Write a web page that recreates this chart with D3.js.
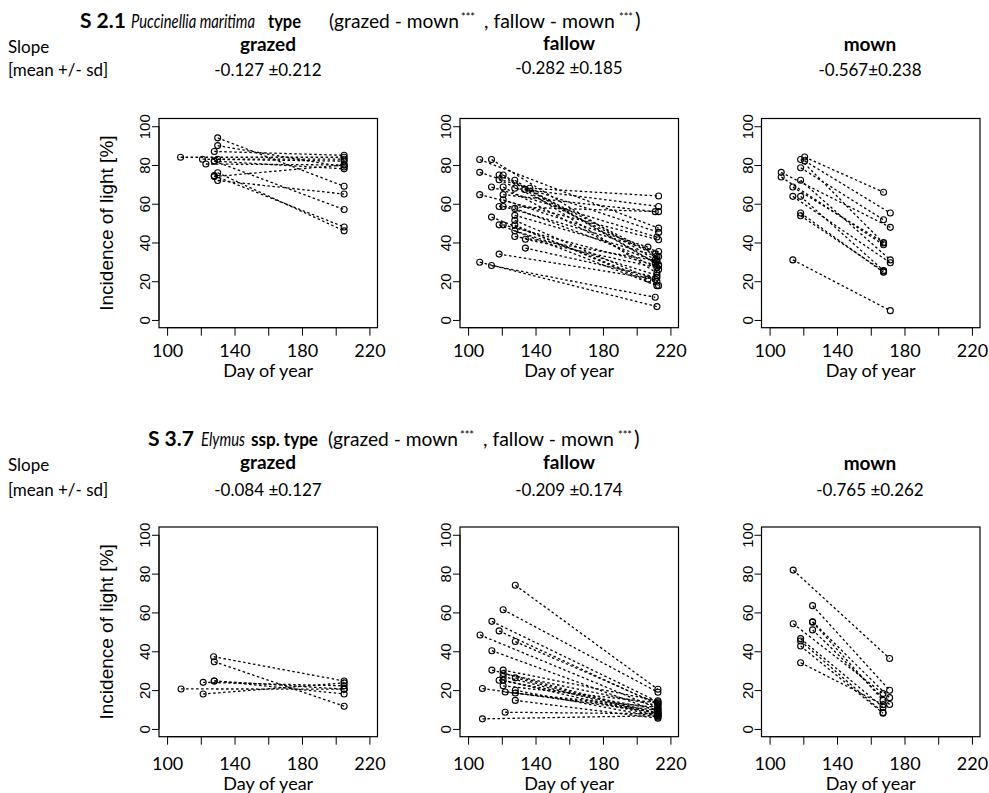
<!DOCTYPE html>
<html>
<head>
<meta charset="utf-8">
<script src="https://cdn.jsdelivr.net/npm/d3@7"></script>
<style>
  html, body { margin: 0; padding: 0; background: #fff; }
  svg { display: block; }
  .hum { font-family: Lato, "Open Sans", sans-serif; }
  .hel { font-family: "Liberation Sans", Arial, sans-serif; }
</style>
</head>
<body>
<svg id="chart" width="989" height="793"></svg>
<script>
// ---------------- DATA ----------------
const treatments = ["grazed", "fallow", "mown"];
const xTicks = [100, 120, 140, 160, 180, 200, 220];
const xTickLabels = ["100", "", "140", "", "180", "", "220"];
const yTicks = [0, 20, 40, 60, 80, 100];

// Segments: [start day, start value, end day, end value]
// S 2.1 Puccinellia maritima type
const puccGrazed = [
  [108, 84, 205, 84], [121, 83, 205, 82], [123, 80.5, 205, 80], [128, 87, 205, 85],
  [128, 82, 205, 78], [130, 94, 205, 69], [130, 90, 205, 79], [130, 83, 205, 83],
  [128, 74.5, 205, 48], [128, 74, 205, 80], [130, 72, 205, 65], [130, 76, 205, 46],
  [128, 82, 205, 57]
];
const puccFallow = [
  [136.6, 68, 213, 64], [127.7, 68, 213, 58.6], [120.8, 64.7, 211, 55.9], [118.4, 58.6, 213, 55.9],
  [106.9, 82.8, 213, 47.4], [113.9, 82.8, 211, 31], [106.9, 76.2, 213, 45.2], [118.4, 74.8, 211, 34.1],
  [120.8, 74.8, 211, 29.3], [118.4, 72.4, 213, 32.7], [127.7, 72.1, 213, 28.5], [113.9, 68.6, 212, 42.8],
  [120.8, 68.6, 213, 26], [133.6, 67.4, 212, 24.2], [106.9, 64.7, 213, 41.4], [120.8, 62, 206.7, 37.6],
  [120.8, 58.6, 213, 35.3], [127.7, 57.6, 212, 30], [127.7, 54, 212, 33], [113.9, 53.1, 206.7, 21.1],
  [127.7, 51.4, 212, 20], [118.4, 49.1, 212, 17.7], [120.8, 49.1, 213, 28], [127.7, 49, 213, 17.7],
  [127.7, 46, 212, 23], [127.7, 43.1, 212, 30.5], [134, 41.7, 212, 27], [134, 37.1, 212, 22],
  [118.4, 34, 211, 21], [106.9, 29.8, 212, 6.9], [113.9, 28.1, 211, 11.7]
];
const puccMown = [
  [120.8, 84.1, 167.6, 65.9], [120.8, 82.1, 171.6, 55.2], [118.4, 82.8, 167.6, 39.7],
  [118.4, 78.6, 167.6, 51.7], [106.9, 76.2, 171.6, 47.8], [106.9, 73.8, 167.6, 38.8],
  [118.4, 72.1, 171.6, 31], [113.8, 68.6, 167.6, 40], [113.8, 63.8, 171.6, 29.5],
  [118.4, 63.8, 167.6, 25.5], [118.4, 55.2, 167.6, 24.6], [118.4, 53.8, 167.6, 25.2],
  [113.8, 31, 171.6, 4.8]
];
// S 3.7 Elymus ssp. type
const elymGrazed = [
  [108.3, 20.6, 205, 20.5], [121.4, 24, 205, 22.2], [121.4, 18, 205, 23.7],
  [127.6, 37.2, 205, 24.7], [128, 34.6, 205, 11.7], [128, 24.7, 205, 18], [128, 24.7, 205, 20.5]
];
const elymFallow = [
  [128, 74, 212.6, 20.4], [120.8, 61.4, 212.6, 18.9], [114.1, 55.4, 212.6, 14], [118.4, 50.5, 212.6, 12.5],
  [128, 45, 212.6, 13], [107.1, 48.4, 212.6, 10.5], [114.1, 40.3, 212.6, 9], [114.1, 30.3, 212.6, 8],
  [120.8, 30.3, 212.6, 14.5], [120.8, 28.5, 212.6, 12], [120.8, 27, 212.6, 7], [118.4, 25.1, 212.6, 10],
  [120.8, 25.1, 212.6, 6.5], [120.8, 22.2, 212.6, 13.5], [108.5, 20.8, 212.6, 8.5], [122, 19, 212.6, 11],
  [128, 26.3, 212.6, 7.5], [128, 19.9, 212.6, 6], [128, 18.5, 212.6, 9.5], [128, 14.7, 212.6, 5.5],
  [122, 8.6, 212.6, 7.8], [108.5, 5.2, 212.6, 6.8]
];
const elymMown = [
  [114, 81.8, 171.2, 36.3], [125.5, 63.5, 171.2, 19.9], [125.5, 55.2, 171.2, 16.1],
  [125.5, 55, 167.3, 14.7], [125.5, 51, 171.2, 12.6], [114, 54.2, 167.3, 18.2],
  [118.4, 46.5, 167.3, 11.2], [118.4, 45.3, 167.3, 8.5], [118.4, 42.7, 167.3, 8.1],
  [118.4, 34.1, 167.3, 12.5]
];
const puccSlopes = ["-0.127 \u00B10.212", "-0.282 \u00B10.185", "-0.567\u00B10.238"];
const elymSlopes = ["-0.084 \u00B10.127", "-0.209 \u00B10.174", "-0.765 \u00B10.262"];

// Title pieces: [text, weight, style, superscript]
const puccTitle = [["S 2.1", "bold", "normal", false], ["Puccinellia maritima", "normal", "italic", false],
  ["type", "bold", "normal", false], ["(grazed - mown", "normal", "normal", false], ["***", "normal", "normal", true],
  [", fallow - mown", "normal", "normal", false], ["***", "normal", "normal", true], [")", "normal", "normal", false]];
const elymTitle = [["S 3.7", "bold", "normal", false], ["Elymus", "normal", "italic", false],
  ["ssp. type", "bold", "normal", false], ["(grazed - mown", "normal", "normal", false], ["***", "normal", "normal", true],
  [", fallow - mown", "normal", "normal", false], ["***", "normal", "normal", true], [")", "normal", "normal", false]];

// ---------------- LAYOUT ----------------
const svg = d3.select("#chart");
svg.append("rect").attr("width", 989).attr("height", 793).attr("fill", "#fff");

const panelLeft = [159, 460, 761.5];
const panelW = 218.5;
const rows = [
  { top: 118.5, bottom: 327.7, data: [puccGrazed, puccFallow, puccMown], slopes: puccSlopes,
    titleY: 28, subY: [51, 50, 51], valY: [76, 74, 76], tickLabY: 357, xTitleY: 377,
    title: puccTitle, titleX: [80, 131, 268, 329, 461, 484, 619, 635], titleW: [47, 124, 33, 130, 14, 131, 14, 7] },
  { top: 527, bottom: 736.7, data: [elymGrazed, elymFallow, elymMown], slopes: elymSlopes,
    titleY: 446, subY: [469, 469, 470], valY: [496, 496, 496], tickLabY: 770, xTitleY: 790,
    title: elymTitle, titleX: [148, 201, 251, 328, 460, 483, 618, 634], titleW: [47, 44, 67, 130, 14, 131, 14, 7] }
];
const subCenters = [268, 569, 870];

rows.forEach((row, ri) => {
  // Title pieces: shrink a little, then condense horizontally to the width seen in the reference
  row.title.forEach((p, i) => {
    const base = p[3] ? 13 : 21;
    const ty = p[3] ? row.titleY - 7 : row.titleY;
    const t = svg.append("text").attr("class", "hum")
      .attr("x", 0).attr("y", 0)
      .attr("transform", `translate(${row.titleX[i]},${ty})`)
      .attr("font-size", base).attr("font-weight", p[1]).attr("font-style", p[2])
      .text(p[0]);
    const w = t.node().getComputedTextLength();
    if (w > row.titleW[i]) {
      const f = Math.max(0.88, row.titleW[i] / w);
      t.attr("font-size", base * f);
      const w2 = t.node().getComputedTextLength();
      if (w2 > row.titleW[i]) {
        t.attr("transform", `translate(${row.titleX[i]},${ty}) scale(${row.titleW[i] / w2},1)`);
      }
    }
  });

  // Slope label
  svg.append("text").attr("class", "hum").attr("x", 8).attr("y", row.subY[0] + 2)
    .attr("font-size", 17).text("Slope");
  svg.append("text").attr("class", "hum").attr("x", 8).attr("y", row.valY[0])
    .attr("font-size", 17).text("[mean +/- sd]");

  const y = d3.scaleLinear().domain([-4, 104]).range([row.bottom, row.top]);

  treatments.forEach((tr, ci) => {
    const x0 = panelLeft[ci];
    const x = d3.scaleLinear().domain([95.2, 224.8]).range([x0, x0 + panelW]);
    const g = svg.append("g");

    // Subtitles
    svg.append("text").attr("class", "hum").attr("x", subCenters[ci]).attr("y", row.subY[ci])
      .attr("text-anchor", "middle").attr("font-size", 19).attr("font-weight", "bold").text(tr);
    svg.append("text").attr("class", "hum").attr("x", subCenters[ci]).attr("y", row.valY[ci])
      .attr("text-anchor", "middle").attr("font-size", 17).text(row.slopes[ci]);

    // X axis
    const xAxis = d3.axisBottom(x).tickValues(xTicks).tickSize(8)
      .tickFormat((d, i) => xTickLabels[i]);
    const gx = g.append("g").attr("transform", `translate(0,${row.bottom})`).call(xAxis);
    gx.select(".domain").attr("d", `M${x(100)},0H${x(220)}`).attr("stroke", "#000");
    gx.selectAll(".tick line").attr("stroke", "#000");
    gx.selectAll(".tick text").attr("font-size", 18)
      .attr("font-family", "Lato, 'Open Sans', sans-serif")
      .attr("y", row.tickLabY - row.bottom).attr("dy", null).attr("fill", "#000");

    svg.append("text").attr("class", "hum").attr("x", x0 + panelW / 2).attr("y", row.xTitleY)
      .attr("text-anchor", "middle").attr("font-size", 18).text("Day of year");

    // Y axis
    const yAxis = d3.axisLeft(y).tickValues(yTicks).tickSize(7);
    const gy = g.append("g").attr("transform", `translate(${x0},0)`).call(yAxis);
    gy.select(".domain").attr("d", `M0,${y(0)}V${y(100)}`).attr("stroke", "#000");
    gy.selectAll(".tick line").attr("stroke", "#000");
    gy.selectAll(".tick text").attr("font-family", "'Liberation Sans', Arial, sans-serif")
      .attr("font-size", 15).attr("fill", "#000")
      .attr("x", null).attr("dy", null).attr("y", 0).attr("text-anchor", "middle")
      .attr("transform", "translate(-9,0) rotate(-90)");

    if (ci === 0) {
      svg.append("text").attr("class", "hel")
        .attr("transform", `translate(113,${(row.top + row.bottom) / 2}) rotate(-90)`)
        .attr("text-anchor", "middle").attr("font-size", 19).text("Incidence of light [%]");
    }

    // Box
    g.append("rect").attr("x", x0).attr("y", row.top).attr("width", panelW)
      .attr("height", row.bottom - row.top).attr("fill", "none").attr("stroke", "#000").attr("stroke-width", 1.2);

    // Lines and points
    const line = d3.line().x(d => x(d[0])).y(d => y(d[1]));
    const segs = row.data[ci];
    g.selectAll("path.seg").data(segs).enter().append("path").attr("class", "seg")
      .attr("d", s => line([[s[0], s[1]], [s[2], s[3]]]))
      .attr("fill", "none").attr("stroke", "#000").attr("stroke-width", 1.3)
      .attr("stroke-dasharray", "2.5,2.5");
    const pts = segs.flatMap(s => [[s[0], s[1]], [s[2], s[3]]]);
    g.selectAll("circle").data(pts).enter().append("circle")
      .attr("cx", d => x(d[0])).attr("cy", d => y(d[1])).attr("r", 3)
      .attr("fill", "none").attr("stroke", "#000").attr("stroke-width", 1.1);
  });
});
</script>
</body>
</html>
